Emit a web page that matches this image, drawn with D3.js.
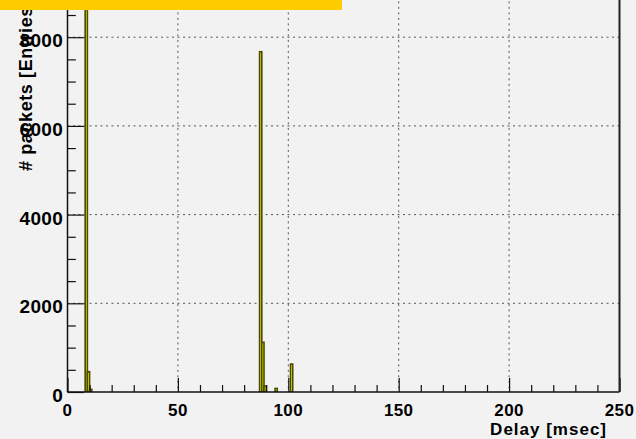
<!DOCTYPE html>
<html><head><meta charset="utf-8">
<script src="https://cdn.jsdelivr.net/npm/d3@7"></script>
<style>
html,body{margin:0;padding:0;background:#f2f2f2;}
svg{display:block;}
text{font-family:"Liberation Sans",Arial,Helvetica,sans-serif;font-weight:bold;fill:#000;}
</style></head>
<body>
<script>
// Data (bin width 1 msec)
const binStarts = [8, 9, 10, 87, 88, 89, 94, 101];
const binCounts = [9700, 458, 60, 7673, 1120, 135, 80, 630];
const xTicks = [0, 50, 100, 150, 200, 250];
const yTicks = [0, 2000, 4000, 6000, 8000];
const xTitle = "Delay [msec]";
const yTitle = "# packets [Entries]";

(function () {
const W = 636, H = 439;
const svg = d3.select("body").append("svg").attr("width", W).attr("height", H);
svg.append("rect").attr("width", W).attr("height", H).attr("fill", "#f2f2f2");

const pLeft = 67.5, pRight = 619.5, pBottom = 392;
const x = d3.scaleLinear().domain([0, 250]).range([pLeft, pRight]);
const y = d3.scaleLinear().domain([0, 9800]).range([pBottom, pBottom - 9800 * 0.04435]);
const pTop = y(9800);

// grid
const g = svg.append("g");
g.selectAll(".vg").data(xTicks.filter(t => t > 0 && t < 250)).enter().append("line")
  .attr("x1", d => x(d)).attr("x2", d => x(d)).attr("y1", pTop).attr("y2", pBottom)
  .attr("stroke", "#555").attr("stroke-width", 1).attr("stroke-dasharray", "2,3.5");
g.selectAll(".hg").data(yTicks.filter(t => t > 0)).enter().append("line")
  .attr("x1", pLeft).attr("x2", pRight).attr("y1", d => y(d)).attr("y2", d => y(d))
  .attr("stroke", "#555").attr("stroke-width", 1).attr("stroke-dasharray", "2,3.5");

// bars
svg.append("clipPath").attr("id", "clip").append("rect")
  .attr("x", pLeft).attr("y", pTop).attr("width", pRight - pLeft).attr("height", pBottom - pTop);
const bars = binStarts.map((s, i) => ({s, c: binCounts[i]}));
svg.append("g").attr("clip-path", "url(#clip)").selectAll("rect").data(bars).enter().append("rect")
  .attr("x", d => x(d.s)).attr("width", d => x(d.s + 1) - x(d.s))
  .attr("y", d => y(d.c)).attr("height", d => pBottom - y(d.c))
  .attr("fill", "#ffff00").attr("stroke", "#4a4a00").attr("stroke-width", 1.6);

// x axis
const xAxis = d3.axisBottom(x).tickValues(d3.range(0, 251, 10)).tickSize(0).tickFormat("");
const xa = svg.append("g").attr("transform", `translate(0,${pBottom})`).call(xAxis);
xa.select(".domain").remove();
svg.append("line").attr("x1", pLeft).attr("x2", pRight).attr("y1", pBottom).attr("y2", pBottom)
  .attr("stroke", "#111").attr("stroke-width", 1.5);
xa.selectAll(".tick line").attr("y1", 0).attr("y2", d => d % 50 === 0 ? -14 : -7)
  .attr("stroke", "#111").attr("stroke-width", 1.2);
svg.selectAll(".xl").data(xTicks).enter().append("text")
  .attr("x", d => x(d)).attr("y", 415.5).attr("text-anchor", "middle")
  .attr("font-size", 17).attr("letter-spacing", "0.4px").text(d => d);
svg.append("text").attr("x", 607).attr("y", 435).attr("text-anchor", "end")
  .attr("font-size", 17).attr("letter-spacing", "1px").text(xTitle);

// y axis
const yAxis = d3.axisLeft(y).tickValues(d3.range(0, 9801, 500)).tickSize(0).tickFormat("");
const ya = svg.append("g").attr("transform", `translate(${pLeft},0)`).call(yAxis);
ya.select(".domain").remove();
ya.selectAll(".tick line").attr("x1", 0).attr("x2", d => d % 2000 === 0 ? 16.6 : 8.3)
  .attr("stroke", "#111").attr("stroke-width", 1.2);
svg.append("line").attr("x1", pLeft).attr("x2", pLeft).attr("y1", pTop).attr("y2", pBottom)
  .attr("stroke", "#111").attr("stroke-width", 1.5);
svg.append("line").attr("x1", pRight).attr("x2", pRight).attr("y1", pTop).attr("y2", pBottom)
  .attr("stroke", "#222").attr("stroke-width", 2);
svg.selectAll(".yl").data(yTicks).enter().append("text")
  .attr("x", 63).attr("y", d => y(d) + 10).attr("text-anchor", "end")
  .attr("font-size", 19).attr("letter-spacing", "0.3px").text(d => d);
svg.append("text").attr("transform", "translate(32,171) rotate(-90)")
  .attr("text-anchor", "start").attr("font-size", 18).attr("letter-spacing", "0.6px").text(yTitle);

// title box (cut off)
svg.append("rect").attr("x", 0).attr("y", -20).attr("width", 342).attr("height", 30).attr("fill", "#ffcc00");
})();
</script>
</body></html>
